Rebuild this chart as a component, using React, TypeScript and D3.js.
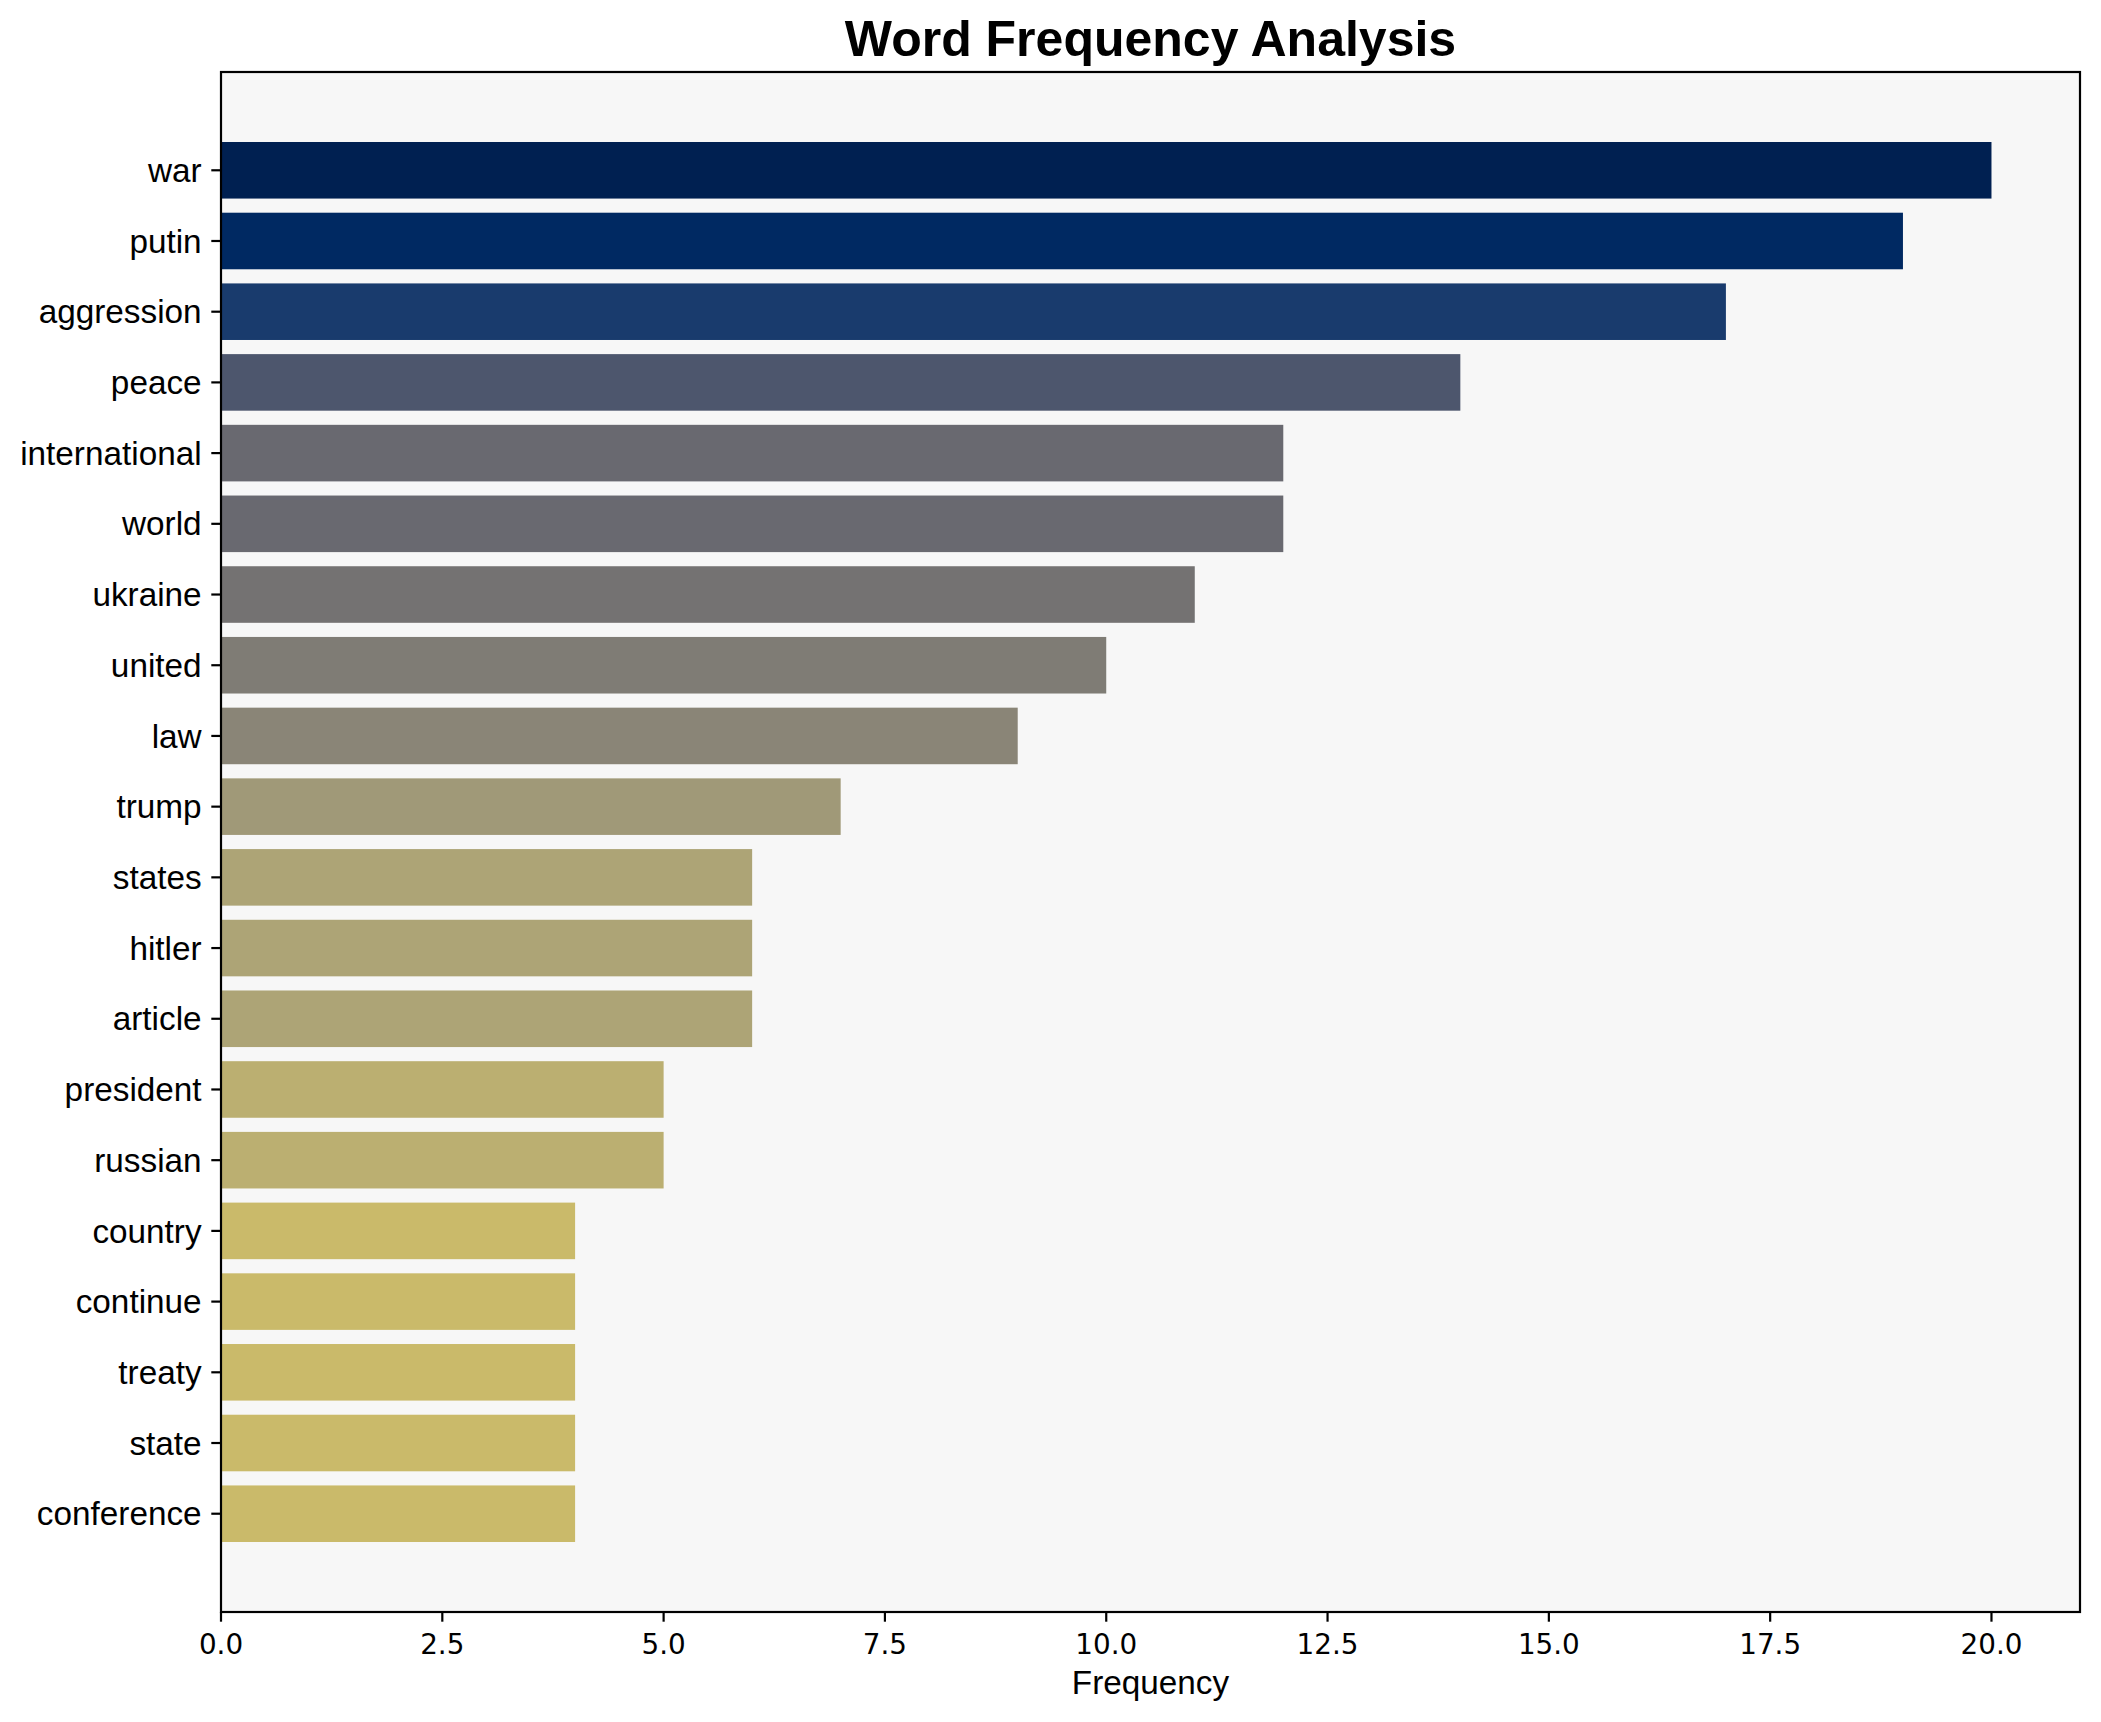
import React from "react";
import * as d3 from "d3";

const words = [
  "war", "putin", "aggression", "peace", "international", "world", "ukraine",
  "united", "law", "trump", "states", "hitler", "article", "president",
  "russian", "country", "continue", "treaty", "state", "conference",
];
const counts = [20, 19, 17, 14, 12, 12, 11, 10, 9, 7, 6, 6, 6, 5, 5, 4, 4, 4, 4, 4];
const xTicks = [0, 2.5, 5, 7.5, 10, 12.5, 15, 17.5, 20];
const title = "Word Frequency Analysis";
const xLabel = "Frequency";

const W = 2101;
const H = 1722;
const left = 221;
const right = 2080;
const top = 72;
const bottom = 1612;

export default function App() {
  const maxV = d3.max(counts) as number;
  const x = d3.scaleLinear().domain([0, maxV * 1.05]).range([left, right]);
  const n = words.length;
  const pad = (n - 1 + 0.8) * 0.05;
  const y = d3
    .scaleLinear()
    .domain([-0.4 - pad, n - 1 + 0.4 + pad])
    .range([top, bottom]);
  const barH = y(0.8) - y(0);
  const sans = "Liberation Sans, Arial, sans-serif";
  const dejavu = "DejaVu Sans, sans-serif";
  const lw = 2.2;

  return (
    <svg
      width={W}
      height={H}
      viewBox={`0 0 ${W} ${H}`}
      style={{ position: "absolute", left: 0, top: 0, background: "#ffffff" }}
    >
      <rect x={0} y={0} width={W} height={H} fill="#ffffff" />
      <rect x={left} y={top} width={right - left} height={bottom - top} fill="#f7f7f7" />
      {words.map((w, i) => (
        <rect
          key={w}
          x={x(0)}
          y={y(i) - barH / 2}
          width={x(counts[i]) - x(0)}
          height={barH}
          fill={d3.interpolateCividis(1 - counts[i] / maxV)}
        />
      ))}
      {/* y ticks */}
      {words.map((w, i) => (
        <g key={"yt" + w}>
          <line x1={left - 9.7} x2={left} y1={y(i)} y2={y(i)} stroke="#000" strokeWidth={lw} />
          <text
            x={left - 19.4}
            y={y(i)}
            dy="0.35em"
            textAnchor="end"
            fontFamily={sans}
            fontSize={33.3}
            fill="#000"
          >
            {w}
          </text>
        </g>
      ))}
      {/* x ticks */}
      {xTicks.map((t) => (
        <g key={"xt" + t}>
          <line x1={x(t)} x2={x(t)} y1={bottom} y2={bottom + 9.7} stroke="#000" strokeWidth={lw} />
          <text
            x={x(t)}
            y={bottom + 42}
            textAnchor="middle"
            fontFamily={dejavu}
            fontSize={27.8}
            fill="#000"
          >
            {d3.format(".1f")(t)}
          </text>
        </g>
      ))}
      <rect
        x={left}
        y={top}
        width={right - left}
        height={bottom - top}
        fill="none"
        stroke="#000"
        strokeWidth={lw}
      />
      <text
        x={(left + right) / 2}
        y={1694}
        textAnchor="middle"
        fontFamily={sans}
        fontSize={33.3}
        fill="#000"
      >
        {xLabel}
      </text>
      <text
        x={(left + right) / 2}
        y={56}
        textAnchor="middle"
        fontFamily={sans}
        fontWeight="bold"
        fontSize={50}
        fill="#000"
      >
        {title}
      </text>
    </svg>
  );
}
